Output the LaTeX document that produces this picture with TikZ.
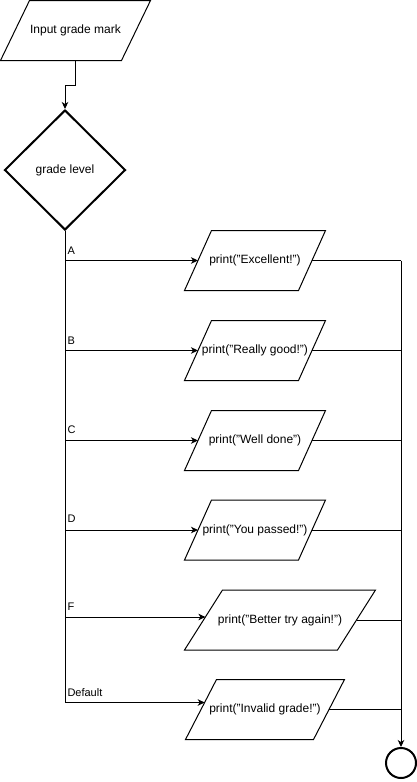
\documentclass[tikz,border=0pt]{standalone}
\usepackage{fontspec}
\setmainfont{Liberation Sans}
\usetikzlibrary{shapes.geometric,arrows.meta}

% #1 name, #2 x, #3 y, #4 mid-height width, #5 half slant, #6 text
\newcommand\ioshape[6]{%
  \node[iotext,minimum width=#4] (#1) at (#2,#3) {#6};
  \draw ([xshift=-#5]#1.south west) -- ([xshift=-#5]#1.south east)
     -- ([xshift=#5]#1.north east) -- ([xshift=#5]#1.north west) -- cycle;
}

\begin{document}
\begin{tikzpicture}[x=1pt,y=-1pt,line width=1pt,
  flow/.style={-{Stealth[length=7pt,width=6.5pt,inset=2pt]}},
  iotext/.style={draw=none,inner sep=0pt,minimum height=59pt,
    font=\fontsize{12pt}{14pt}\selectfont},
  decision/.style={diamond,draw,line width=2pt,inner sep=0pt,
    minimum width=121pt,minimum height=120pt,
    font=\fontsize{12pt}{14pt}\selectfont},
  terminal/.style={circle,draw,line width=2pt,minimum size=30pt,inner sep=0pt},
  caselabel/.style={anchor=base west,inner sep=0pt,
    font=\fontsize{11pt}{13pt}\selectfont},
]
\useasboundingbox (0,0) rectangle (417,782);

% input and decision
\ioshape{inp}{75.5}{30.5}{120pt}{14.5pt}{Input grade mark}
\node[decision] (dia) at (65,170) {grade level};

% output boxes
\ioshape{ex}{255}{260.5}{113pt}{13.5pt}{print("Excellent!")}
\ioshape{rg}{255}{350.5}{113pt}{13.5pt}{print("Really good!")}
\ioshape{wd}{255}{440.5}{113pt}{13.5pt}{print("Well done")}
\ioshape{yp}{255}{530}{113pt}{13.5pt}{print("You passed!")}
\ioshape{bt}{280}{620}{152pt}{19pt}{print("Better try again!")}
\ioshape{inv}{265}{709.5}{127pt}{15.5pt}{print("Invalid grade!")}

% end state
\node[terminal] (stop) at (401,763) {};

% input to decision
\draw[flow] (inp.south) -- ++(0,25) -| (dia.north);

% case branches
\draw[flow] (dia.south) |- (ex.west);
\draw[flow] (dia.south) |- (rg.west);
\draw[flow] (dia.south) |- (wd.west);
\draw[flow] (dia.south) |- (yp.west);
\draw[flow] (dia.south) |- ([xshift=1.9pt,yshift=3pt]bt.west);
\draw[flow] (dia.south) |- ([xshift=3.7pt,yshift=7pt]inv.west);

% case labels
\node[caselabel] (la) at (67,254) {A};
\node[caselabel] (lb) at (67,344) {B};
\node[caselabel] (lc) at (67,433.5) {C};
\node[caselabel] (ld) at (67,522.5) {D};
\node[caselabel] (lf) at (67,610.5) {F};
\node[caselabel] (ldef) at (67,696.5) {Default};

% merge into the end state
\draw (ex.east) -- (ex.east -| stop);
\draw (rg.east) -- (rg.east -| stop);
\draw (wd.east) -- (wd.east -| stop);
\draw (yp.east) -- (yp.east -| stop);
\draw (bt.east) -- (bt.east -| stop);
\draw (inv.east) -- (inv.east -| stop);
\draw[flow] (ex.east -| stop) -- (stop.north);
\end{tikzpicture}
\end{document}
